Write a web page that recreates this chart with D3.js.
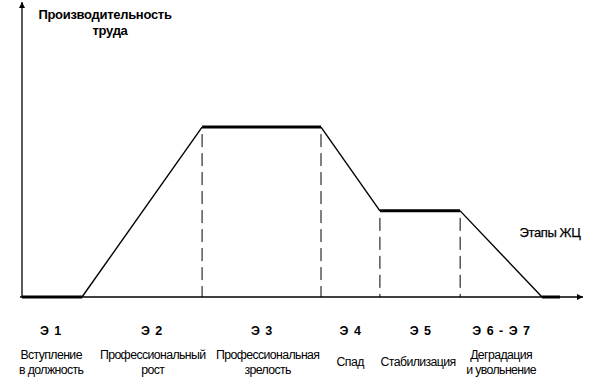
<!DOCTYPE html>
<html><head><meta charset="utf-8">
<script src="https://cdn.jsdelivr.net/npm/d3@7"></script>
<style>body{margin:0;background:#fff}svg{display:block}text{font-family:"Liberation Sans",Arial,sans-serif;fill:#000}</style>
</head><body>
<svg id="c" width="605" height="384"></svg>
<script>
// Stage boundaries on time axis (arbitrary units 0..100)
const bounds = [0, 10.7, 32.1, 53.3, 63.8, 78.1, 92.7, 95.9];
// Productivity at each boundary (0..100)
const productivity = [0, 0, 57.6, 57.6, 29.2, 29.2, 0, 0];
// Thick (plateau) segments indices: segment i goes bounds[i]->bounds[i+1]
const thickSegments = [0, 2, 4, 6];
// Dashed vertical boundaries
const dashedAt = [32.1, 53.3, 63.8, 78.1];
const stageCodes = ["Э 1", "Э 2", "Э 3", "Э 4", "Э 5", "Э 6 - Э 7"];
const stageCodeX = [5.2, 23.2, 42.8, 58.6, 71.1, 85.5];
const stageNames = [["Вступление","в должность"],["Профессиональный","рост"],["Профессиональная","зрелость"],["Спад"],["Стабилизация"],["Деградация","и увольнение"]];
const stageNameX = [5.2, 23.3, 43.8, 58.5, 70.6, 85.4];
const yTitle = ["Производительность","труда"];
const xTitle = "Этапы ЖЦ";

const svg = d3.select("#c");
const x = d3.scaleLinear().domain([0,100]).range([22,583]);
const y = d3.scaleLinear().domain([0,100]).range([297,2]);

// axes
svg.append("defs").append("marker").attr("id","arr").attr("viewBox","0 0 10 10")
  .attr("refX",10).attr("refY",5).attr("markerWidth",8).attr("markerHeight",6)
  .attr("markerUnits","userSpaceOnUse").attr("orient","auto")
  .append("path").attr("d","M0,0L10,5L0,10z").attr("fill","#000");
svg.append("line").attr("x1",x(0)-2).attr("y1",y(0)).attr("x2",x(100)).attr("y2",y(0))
  .attr("stroke","#000").attr("stroke-width",1.3).attr("marker-end","url(#arr)");
svg.append("line").attr("x1",x(0)).attr("y1",y(0)).attr("x2",x(0)).attr("y2",y(100))
  .attr("stroke","#000").attr("stroke-width",1.3).attr("marker-end","url(#arr)");

// dashed verticals
const pAt = t => productivity[bounds.indexOf(t)];
svg.selectAll(".dv").data(dashedAt).join("line")
  .attr("x1",d=>x(d)).attr("x2",d=>x(d))
  .attr("y1",d=>y(pAt(d))+7).attr("y2",y(0))
  .attr("stroke","#000").attr("stroke-width",1).attr("stroke-dasharray","13,6");

// curve segments
const segs = d3.range(bounds.length-1).map(i=>({i,x0:bounds[i],y0:productivity[i],x1:bounds[i+1],y1:productivity[i+1]}));
svg.selectAll(".seg").data(segs).join("line")
  .attr("x1",d=>x(d.x0)).attr("y1",d=>y(d.y0)).attr("x2",d=>x(d.x1)).attr("y2",d=>y(d.y1))
  .attr("stroke","#000").attr("stroke-linecap","butt")
  .attr("stroke-width",d=>thickSegments.includes(d.i)?3:1.4);

// titles
svg.append("text").attr("x",105).attr("y",19).attr("text-anchor","middle")
  .attr("font-size",13).attr("font-weight","bold").attr("letter-spacing",-0.3)
  .selectAll("tspan").data(yTitle).join("tspan").attr("x",(d,i)=>i?110:105).attr("dy",(d,i)=>i?16:0).text(d=>d);
svg.append("text").attr("x",550).attr("y",237).attr("text-anchor","middle")
  .attr("font-size",13).attr("letter-spacing",-0.4).attr("stroke","#000").attr("stroke-width",0.25).text(xTitle);

// stage codes
svg.selectAll(".code").data(stageCodes).join("text")
  .attr("x",(d,i)=>x(stageCodeX[i])).attr("y",335).attr("text-anchor","middle")
  .attr("font-size",12.5).attr("font-weight","bold").attr("letter-spacing",1).text(d=>d);

// stage names
const g = svg.selectAll(".name").data(stageNames).join("text")
  .attr("text-anchor","middle").attr("font-size",12.3).attr("letter-spacing",-0.6)
  .attr("y",(d)=>d.length===1?366:359);
g.selectAll("tspan").data((d,i)=>d.map(s=>({s,i}))).join("tspan")
  .attr("x",d=>x(stageNameX[d.i])).attr("dy",(d,j)=>j?15:0).text(d=>d.s);
</script>
</body></html>
